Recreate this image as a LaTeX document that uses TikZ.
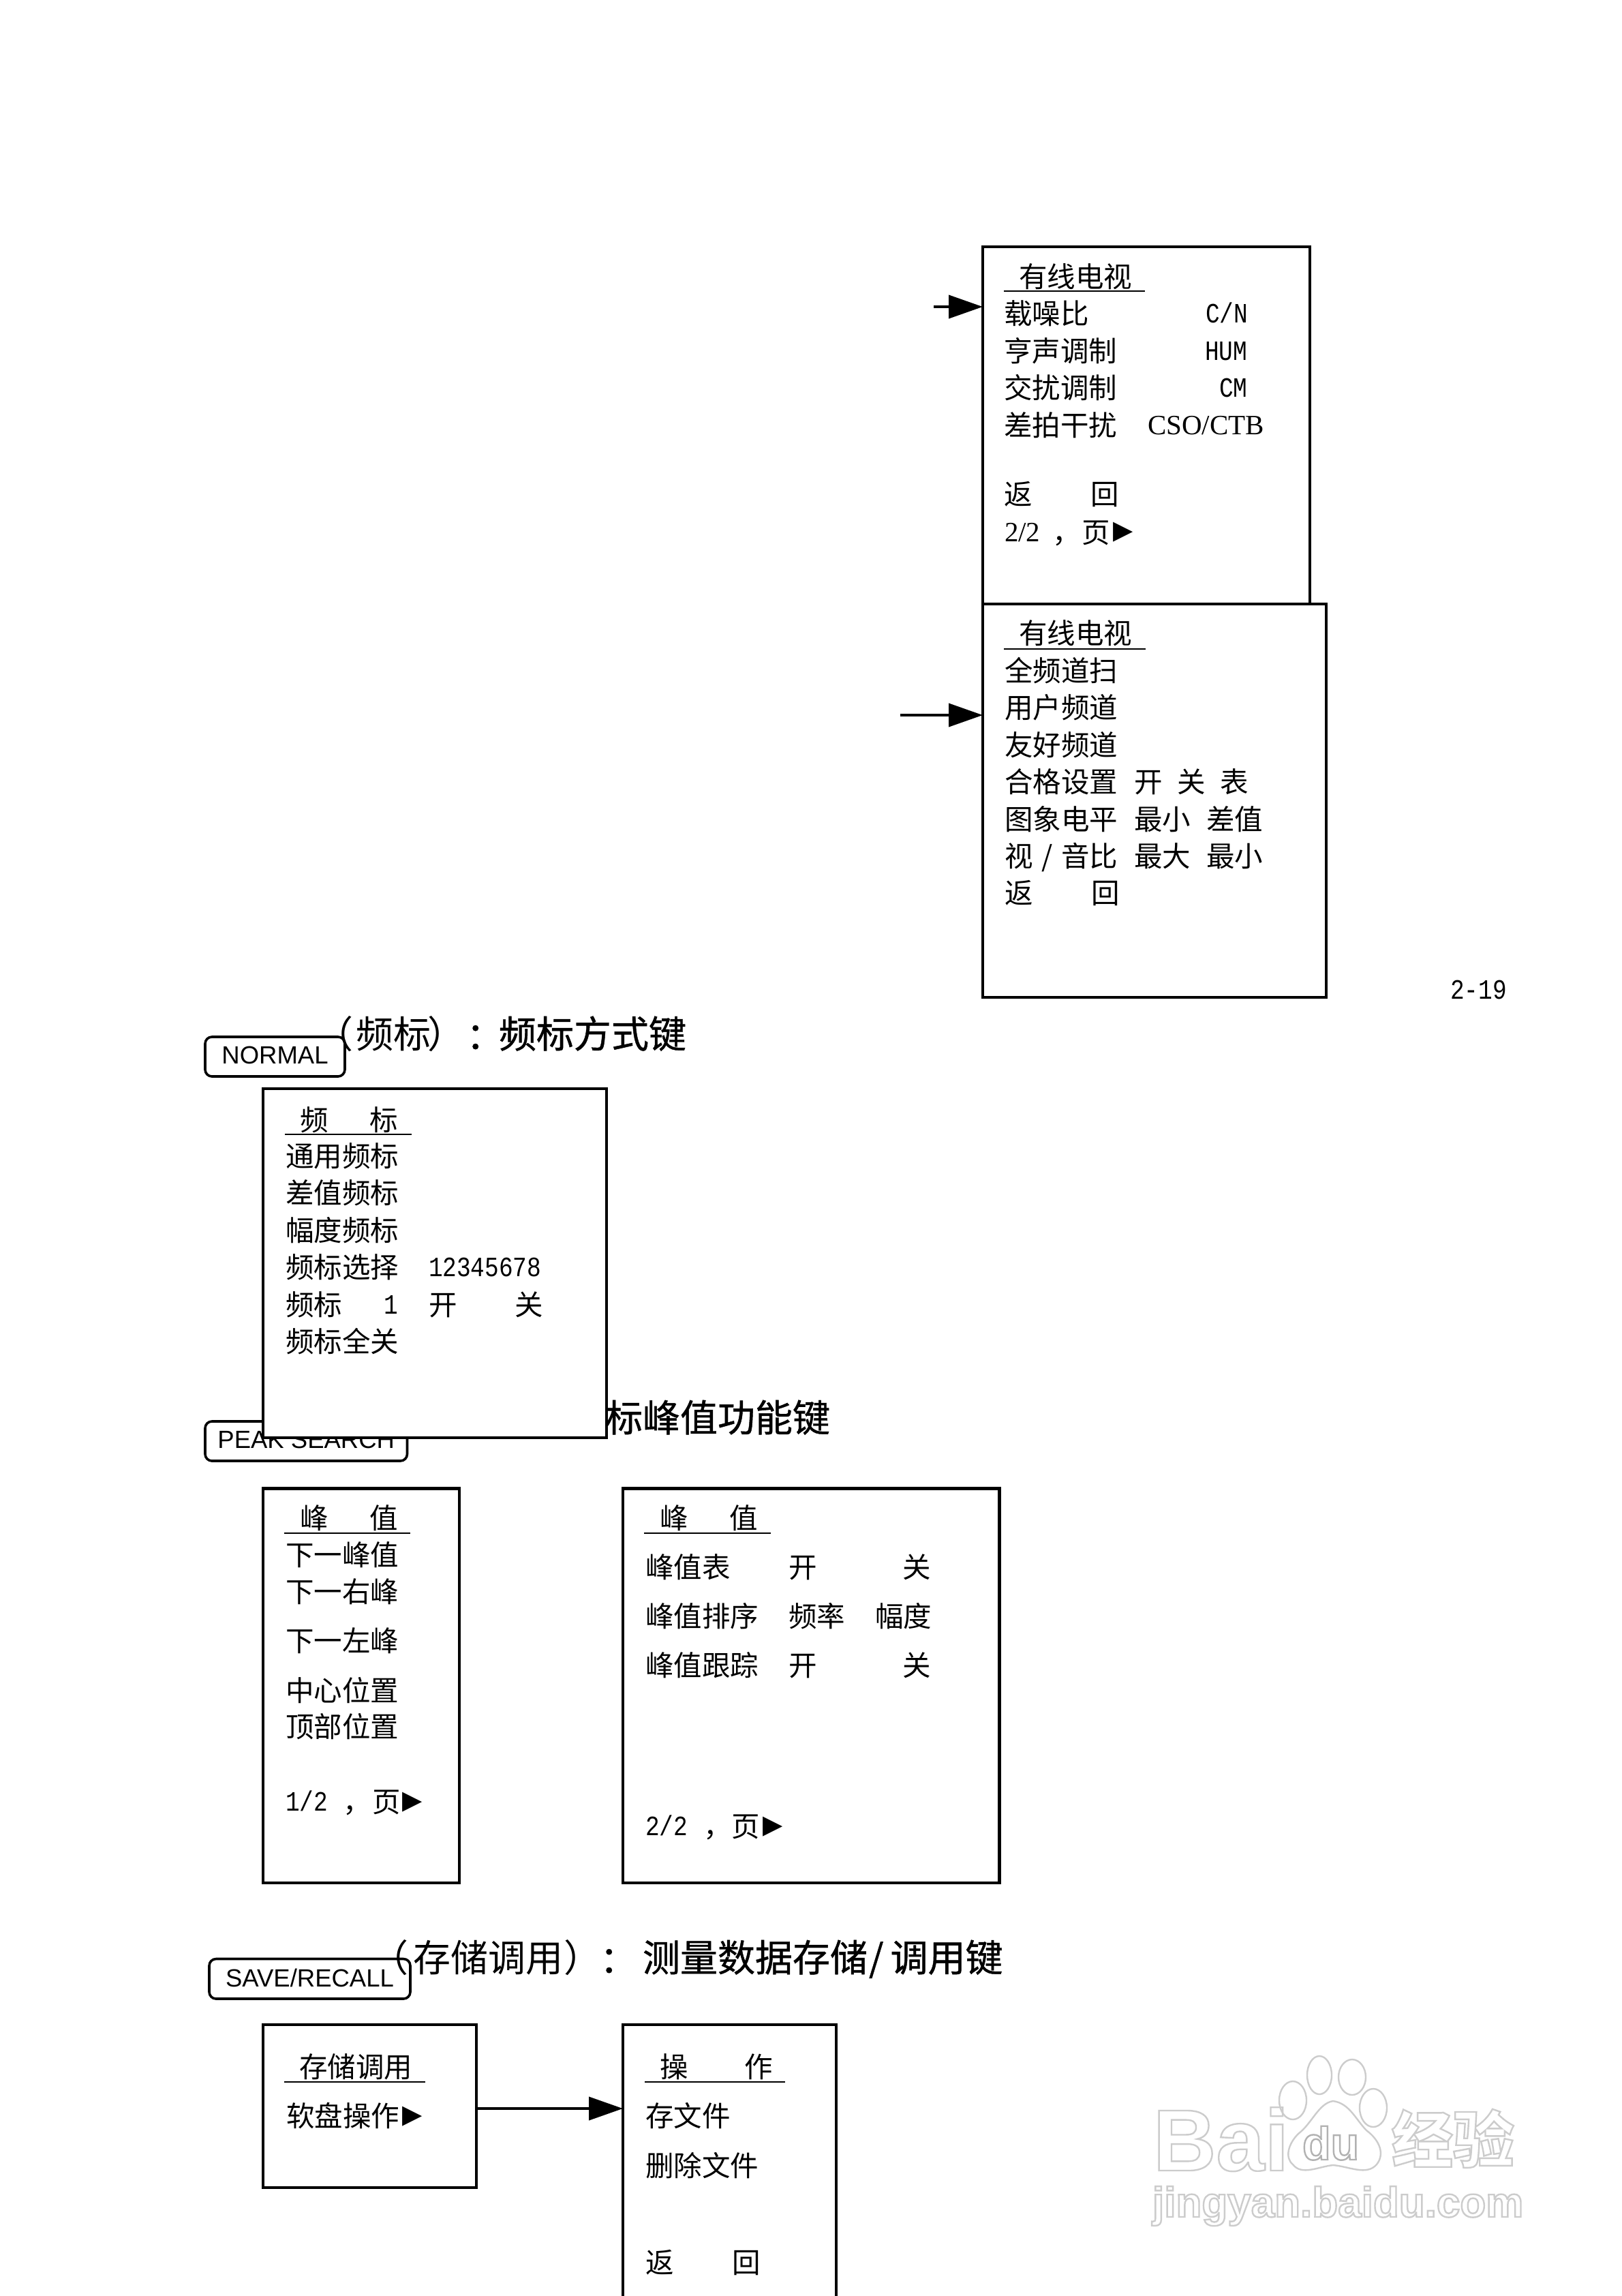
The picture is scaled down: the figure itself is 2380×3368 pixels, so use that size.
\documentclass[tikz,border=0pt]{standalone}
\usepackage{fontspec}
\usetikzlibrary{arrows.meta}
\setmainfont{Liberation Serif}
\newfontfamily\cjk{Noto Sans CJK SC}
\newfontfamily\cjkh[FakeBold=0.8]{Noto Sans CJK SC}
\newfontfamily\tms{Liberation Serif}
\newfontfamily\halfw[FakeStretch=0.84]{Liberation Mono}
\newfontfamily\arl{Liberation Sans}
\newfontfamily\sym{DejaVu Sans}
\newcommand\cjkf{\cjk\fontsize{41.5}{41.5}\selectfont}
\newcommand\hwf{\halfw\fontsize{41}{41}\selectfont}
\newcommand\tmf{\tms\fontsize{41}{41}\selectfont}
\newcommand\headf{\cjk\fontsize{55}{55}\selectfont}
\newcommand\headb{\cjkh\fontsize{55}{55}\selectfont}
\newcommand\symf{\sym\fontsize{38}{38}\selectfont}
\newcount\tn
\newcommand\rT[3]{\global\advance\tn by 1 \node[txt,font=\cjkf] (t\the\tn) at (#1,#2+15) {#3};}
\newcommand\rH[3]{\global\advance\tn by 1 \node[txt,font=\hwf] (t\the\tn) at (#1,#2+13) {#3};}
\newcommand\rM[3]{\global\advance\tn by 1 \node[txt,font=\tmf] (t\the\tn) at (#1,#2+13) {#3};}
\newcommand\rD[3]{\global\advance\tn by 1 \node[txt,font=\headf] (t\the\tn) at (#1,#2+21) {#3};}
\newcommand\rB[3]{\global\advance\tn by 1 \node[txt,font=\headb] (t\the\tn) at (#1,#2+21) {#3};}
\newcommand\rTri[2]{\global\advance\tn by 1 \node[inner sep=0pt,outer sep=0pt,font=\symf] (t\the\tn) at (#1,#2) {▶};}
\newcommand\mB[5]{\node[menubox,minimum width={(#4-#2)*1pt},minimum height={(#5-#3)*1pt}] (#1) at ({(#2+#4)/2},{(#3+#5)/2}) {};}
\newcommand\kB[6]{\node[keybox,minimum width={(#4-#2)*1pt},minimum height={(#5-#3)*1pt}] (#1) at ({(#2+#4)/2},{(#3+#5)/2}) {#6};}
\newcommand\outl[2][0.8]{\special{pdf:code q 1 Tr #1 G 2.4 w}#2\special{pdf:code Q}}
\tikzset{
  txt/.style={anchor=base west,inner sep=0pt,outer sep=0pt},
  menubox/.style={draw=black,fill=white,line width=4.5pt,inner sep=0pt,outer sep=0pt},
  keybox/.style={draw=black,line width=3.6pt,rounded corners=10pt,inner sep=0pt,outer sep=0pt,text depth=4pt,font=\arl\fontsize{36.5}{36.5}\selectfont},
  ul/.style={line width=2.6pt},
  arr/.style={line width=4pt,-{Triangle[length=50pt,width=34pt]}},
  wm/.style={draw=black!20,line width=2.4pt},
  wmt/.style={anchor=base west,inner sep=0pt,outer sep=0pt}
}
\begin{document}
\begin{tikzpicture}[x=1pt,y=-1pt]
\useasboundingbox (0,0) rectangle (2380,3368);
\fill[white] (0,0) rectangle (2380,3368);

% --- cable TV menus
\mB{boxA}{1442}{362}{1922}{886}
\rT{1495}{406}{有线电视}
\draw[ul] (1473,427) -- (1680,427);
\rT{1473}{460}{载噪比}
\rH{1769}{460}{C/N}
\rT{1473}{515}{亨声调制}
\rH{1768}{515}{HUM}
\rT{1473}{569}{交扰调制}
\rH{1789}{569}{CM}
\rT{1473}{624}{差拍干扰}
\rM{1684}{624}{CSO/CTB}
\rT{1473}{725}{返\kern86pt 回}
\rM{1474}{781}{2/2}
\rT{1544}{781}{，}
\rT{1587}{781}{页}
\rTri{1648}{781}

\coordinate (inA) at (1370,450);
\draw[arr] (inA) -- (boxA.west |- inA);

\mB{boxB}{1442}{886}{1946}{1463}
\rT{1495}{929}{有线电视}
\draw[ul] (1473,952) -- (1681,952);
\rT{1474}{984}{全频道扫}
\rT{1474}{1038}{用户频道}
\rT{1474}{1093}{友好频道}
\rT{1474}{1147}{合格设置}
\rT{1664}{1147}{开}
\rT{1727}{1147}{关}
\rT{1790}{1147}{表}
\rT{1474}{1202}{图象电平}
\rT{1664}{1202}{最小}
\rT{1770}{1202}{差值}
\rT{1474}{1256}{视\makebox[41.5pt]{/}音比}
\rT{1664}{1256}{最大}
\rT{1770}{1256}{最小}
\rT{1474}{1310}{返\kern86pt 回}

\coordinate (inB) at (1321,1049);
\draw[arr] (inB) -- (boxB.west |- inB);

\rH{2128}{1452}{2-19}

% --- NORMAL section
\rD{463}{1516}{（}
\rD{522}{1516}{频标}
\rD{627}{1516}{）}
\rB{684}{1518}{：}
\rB{732}{1516}{频标方式键}
\kB{normal}{301}{1521}{506}{1579}{NORMAL}

% --- PEAK SEARCH heading is partly hidden by the marker menu
\rB{888}{2079}{标峰值功能键}
\kB{peak}{301}{2085}{597.5}{2143}{PEAK SEARCH}

\mB{boxF}{386}{1597}{890}{2109}
\rT{440}{1643}{频\kern61pt 标}
\draw[ul] (418,1664) -- (604,1664);
\rT{419}{1696}{通用频标}
\rT{419}{1750}{差值频标}
\rT{419}{1805}{幅度频标}
\rT{419}{1859}{频标选择}
\rH{629}{1859}{12345678}
\rT{419}{1914}{频标}
\rH{563}{1914}{1}
\rT{629}{1914}{开}
\rT{755}{1914}{关}
\rT{419}{1968}{频标全关}

% --- peak menus
\mB{boxP}{386}{2183.5}{674}{2762}
\rT{440}{2227}{峰\kern61pt 值}
\draw[ul] (417,2249) -- (602,2249);
\rT{419}{2281}{下一峰值}
\rT{419}{2335}{下一右峰}
\rT{419}{2407}{下一左峰}
\rT{419}{2480}{中心位置}
\rT{419}{2533}{顶部位置}
\rH{419}{2643}{1/2}
\rT{503}{2643}{，}
\rT{546}{2643}{页}
\rTri{605}{2644}

\mB{boxQ}{914}{2183.5}{1466.5}{2762}
\rT{968}{2227}{峰\kern61pt 值}
\draw[ul] (945,2249) -- (1131,2249);
\rT{947}{2299}{峰值表}
\rT{1157}{2299}{开}
\rT{1324}{2299}{关}
\rT{947}{2371}{峰值排序}
\rT{1157}{2371}{频率}
\rT{1284}{2371}{幅度}
\rT{947}{2443}{峰值跟踪}
\rT{1157}{2443}{开}
\rT{1324}{2443}{关}
\rH{947}{2679}{2/2}
\rT{1032}{2679}{，}
\rT{1073}{2679}{页}
\rTri{1134}{2680}

% --- SAVE/RECALL section
\rD{544}{2871}{（}
\rD{606}{2871}{存储调用}
\rD{827}{2871}{）}
\rB{880}{2873}{：}
\rB{943}{2871}{测量数据存储\kern2pt/\kern10pt 调用键}
\kB{save}{307}{2873.5}{602}{2932}{SAVE/RECALL}

\mB{boxS}{386}{2970}{699}{3209}
\rT{439}{3032}{存储调用}
\draw[ul] (417,3054) -- (624,3054);
\rT{420}{3104}{软盘操作}
\rTri{605}{3105}

\mB{boxO}{914}{2970}{1227}{3430}
\rT{968}{3032}{操\kern83pt 作}
\draw[ul] (946,3054) -- (1152,3054);
\rT{947}{3104}{存文件}
\rT{947}{3177}{删除文件}
\rT{947}{3319}{返\kern86pt 回}

\coordinate (sv) at (800,3093);
\draw[arr] (boxS.east |- sv) -- (boxO.west |- sv);

% --- watermark
\draw[wm] (1936,3044) ellipse [x radius=18,y radius=28];
\draw[wm] (1984,3047) ellipse [x radius=20,y radius=26];
\draw[wm] (1897,3081) ellipse [x radius=20,y radius=28];
\draw[wm] (2015,3092) ellipse [x radius=20,y radius=28];
\draw[wm] (1956,3082) .. controls (1935,3085) and (1925,3115) .. (1905,3130)
  .. controls (1890,3145) and (1885,3165) .. (1897,3175)
  .. controls (1910,3192) and (1935,3178) .. (1956,3176)
  .. controls (1980,3178) and (2005,3192) .. (2020,3175)
  .. controls (2032,3160) and (2025,3140) .. (2005,3125)
  .. controls (1990,3110) and (1980,3085) .. (1956,3082) -- cycle;
\node[wmt,font=\arl\bfseries\fontsize{128}{128}\selectfont] (wmBai) at (1692,3184) {\outl{Bai}};
\node[wmt,font=\arl\bfseries\fontsize{68}{68}\selectfont] (wmdu) at (1911,3168) {\outl[0.7]{du}};
\node[wmt,font=\cjk\bfseries\fontsize{90}{90}\selectfont] (wmjy) at (2042,3172) {\outl{经验}};
\node[wmt,font=\arl\bfseries\fontsize{62}{62}\selectfont] (wmurl) at (1691,3252) {\outl{jingyan.baidu.com}};
\end{tikzpicture}
\end{document}
